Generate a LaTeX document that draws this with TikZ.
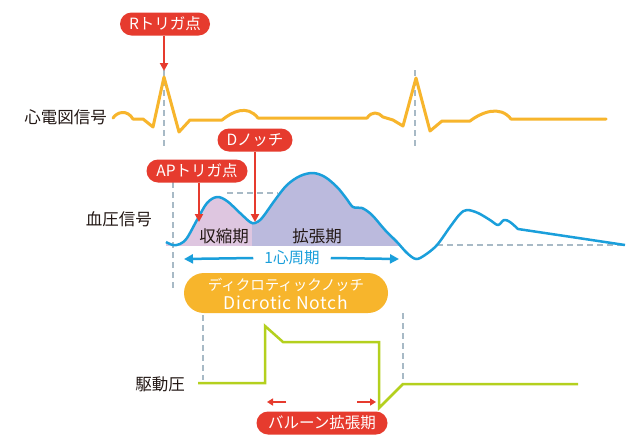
\documentclass[tikz,border=0pt]{standalone}
\usepackage{fontspec}
\setmainfont{Noto Sans CJK JP}
\usetikzlibrary{shapes.misc,arrows.meta}
\definecolor{ecgc}{HTML}{F7B52C}
\definecolor{bpc}{HTML}{1A9FDB}
\definecolor{redc}{HTML}{E63B2E}
\definecolor{grc}{HTML}{B4D01E}
\definecolor{dashc}{HTML}{A8BAC6}
\definecolor{pinkc}{HTML}{DEC6E0}
\definecolor{lavc}{HTML}{BBBADD}
\definecolor{txtc}{HTML}{231815}
\tikzset{
  lbl/.style={font=\fontsize{16.5}{18}\selectfont, text=txtc, inner sep=0pt, anchor=east},
  redpill/.style={rounded rectangle, fill=redc, text=white, font=\fontsize{15.5}{17}\selectfont, inner sep=0pt, minimum height=23pt},
  guide/.style={draw=dashc, line width=1.8pt, dash pattern=on 6pt off 4pt},
  redarrow/.style={draw=redc, line width=2pt, -{Triangle[length=8pt,width=8pt]}},
  smallred/.style={draw=redc, line width=2pt, -{Triangle[length=6pt,width=7pt]}},
  bluearrow/.style={draw=bpc, line width=2.5pt, -{Triangle[length=9pt,width=9pt]}},
  whitetxt/.style={text=white, inner sep=0pt},
}
\begin{document}
\begin{tikzpicture}[x=1pt,y=-1pt]
\useasboundingbox (0,0) rectangle (627,437);
\fill[white] (0,0) rectangle (627,437);

% guides
\draw[guide] (164,70) -- (164,147);
\draw[guide] (415,70) -- (415,147);
\draw[guide] (227,193) -- (278,193);
\draw[guide] (173,182) -- (173,288);
\draw[guide] (437,245) -- (625,245);
\draw[guide] (203,315) -- (203,380);
\draw[guide] (403,313) -- (403,384);

% ECG
\draw[ecgc, line width=3pt, line join=round, line cap=round]
 (113,118) .. controls (117,112) and (127,109) .. (133,119) -- (143,119) -- (153,127) -- (164,77) -- (179,132) -- (190,120) -- (222,120)
 .. controls (232,112) and (247,104) .. (258,118) -- (367,118) .. controls (372,111) and (378,112) .. (383,117) -- (393,120) -- (403,126) -- (416,78) -- (430,131) -- (442,121) -- (470,121)
 .. controls (482,112) and (500,105) .. (511,119) -- (606,119);

% blood pressure
\def\bpcurve{plot[smooth,tension=0.55] coordinates {(166,242) (173,245) (180,244) (187,238) (197,220) (207,203) (217,197) (227,201) (240,213) (250,222) (255,223) (262,218) (275,200) (287,185) (300,176) (313,173) (325,177) (337,187) (346,198) (353,207) (362,208) (372,215) (385,230) (397,242) (407,253) (416,259) (425,255) (437,245) (450,227) (460,214) (467,210) (478,213) (490,220) (498,225) (504,220) (510,222) (518,229)} -- (625,245)}
\begin{scope}
\clip (166,0) rectangle (252,245);
\fill[pinkc] \bpcurve -- (625,300) -- (166,300) -- cycle;
\end{scope}
\begin{scope}
\clip (252,0) rectangle (410,245);
\fill[lavc] \bpcurve -- (625,300) -- (166,300) -- cycle;
\end{scope}
\draw[bpc, line width=2.5pt, line join=round] \bpcurve;

% drive pressure
\draw[grc, line width=2.5pt, line join=miter]
 (198,383) -- (265,383) -- (265,326) -- (283,342) -- (379,342) -- (379,408) -- (403,384) -- (578,384);

% labels
\node[lbl] (ecg) at (107,117) {心電図信号};
\node[lbl] (bp) at (152,219) {血圧信号};
\node[lbl] (dp) at (185,384) {駆動圧};
\node[font=\fontsize{16.5}{18}\selectfont, text=txtc, inner sep=0pt] (sys) at (224,236) {収縮期};
\node[font=\fontsize{16.5}{18}\selectfont, text=txtc, inner sep=0pt] (dia) at (317,236) {拡張期};

% red pills
\node[redpill, minimum width=90pt] (rtrig) at (165,24) {Rトリガ点};
\node[redpill, minimum width=75pt] (dnotch) at (255,140) {Dノッチ};
\node[redpill, minimum width=101pt] (aptrig) at (197,171) {APトリガ点};
\node[redpill, minimum width=131pt] (balloon) at (322,423) {バルーン拡張期};
\coordinate (rtip) at (164,71);
\coordinate (aptip) at (199,222);
\coordinate (dtip) at (255,222);
\draw[redarrow] (rtrig.south -| rtip) -- (rtip);
\draw[redarrow] (aptrig.south -| aptip) -- (aptip);
\draw[redarrow] (dnotch.south -| dtip) -- (dtip);

% balloon small arrows
\coordinate (ba1) at (286,402); \coordinate (ba2) at (267,402);
\coordinate (bb1) at (357,402); \coordinate (bb2) at (376,402);
\draw[smallred] (ba1) -- (ba2);
\draw[smallred] (bb1) -- (bb2);

% cycle
\node[text=bpc, font=\fontsize{15.5}{17}\selectfont, inner sep=0pt] (cyc) at (292,258) {1心周期};
\coordinate (cl) at (184,259); \coordinate (cr) at (399,259);
\draw[bluearrow] (cyc.west) ++(-11pt,0) -- (cl);
\draw[bluearrow] (cyc.east) ++(11pt,0) -- (cr);

% dicrotic
\node[rounded rectangle, fill=ecgc, minimum width=204pt, minimum height=40pt, inner sep=0pt] (dn) at (286,293) {};
\node[whitetxt, font=\fontsize{14.5}{16}\selectfont] (dn1) at (286,284.5) {ディクロティックノッチ};
\node[whitetxt, font=\fontsize{17.5}{19}\selectfont\addfontfeatures{LetterSpace=4}] (dn2) at (286,303) {Dicrotic Notch};
\end{tikzpicture}
\end{document}
